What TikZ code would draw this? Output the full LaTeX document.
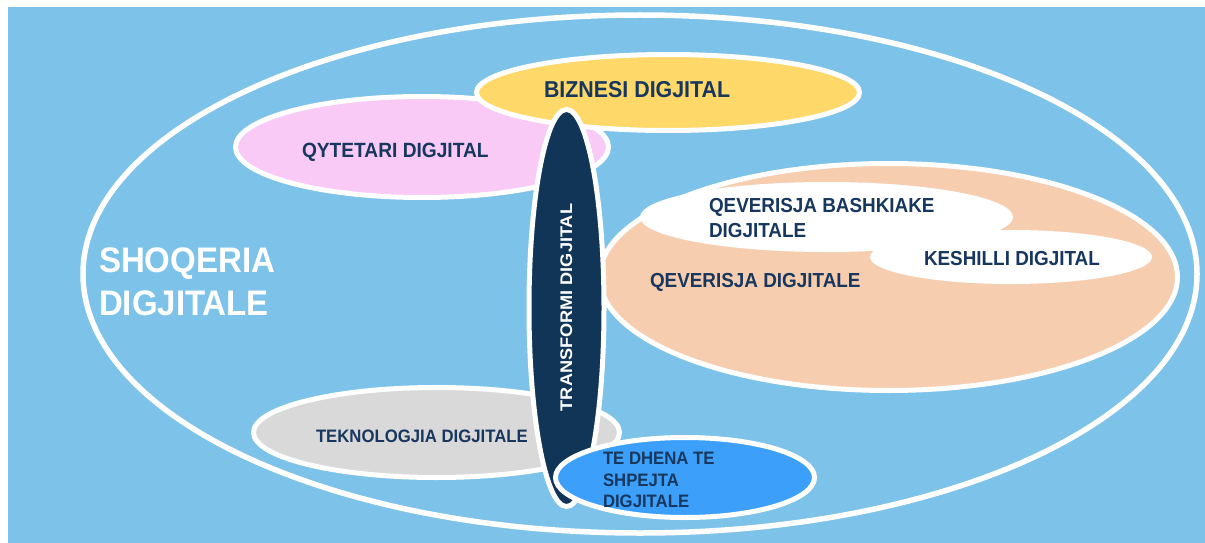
\documentclass[tikz,border=0pt]{standalone}
\usepackage{fontspec}
\setmainfont{Liberation Sans}
\newfontfamily\lab{Liberation Sans}[FakeStretch=0.93]
\newfontfamily\widelab{Liberation Sans}[FakeStretch=1.08]
\definecolor{bgblue}{RGB}{125,194,233}
\definecolor{pinkfill}{RGB}{248,202,245}
\definecolor{yellowfill}{RGB}{254,216,104}
\definecolor{peachfill}{RGB}{247,205,176}
\definecolor{grayfill}{RGB}{217,217,217}
\definecolor{darkfill}{RGB}{17,53,87}
\definecolor{bluefill}{RGB}{60,160,250}
\definecolor{navytext}{RGB}{23,55,94}
\begin{document}
\begin{tikzpicture}[x=1pt,y=-1pt,
  blob/.style={draw=white,line width=5pt},
  lbl/.style={inner sep=0pt,outer sep=0pt,text=navytext,font=\lab\bfseries},
  wlbl/.style={inner sep=0pt,outer sep=0pt,text=white,font=\lab\bfseries}]
\useasboundingbox (0,0) rectangle (1205,543);
\fill[bgblue] (8,7) rectangle (1205,543);
% outer society ellipse
\draw[white,line width=5.5pt] (640,274) ellipse [x radius=557,y radius=259];
% citizen
\path[blob,fill=pinkfill] (422,147) ellipse [x radius=186.5,y radius=50.5];
% business
\path[blob,fill=yellowfill] (668,92.5) ellipse [x radius=191.5,y radius=38];
% government
\path[blob,fill=peachfill] (888.5,277) ellipse [x radius=289,y radius=113.5];
\fill[white] (826.5,217) ellipse [x radius=186.5,y radius=35];
\fill[white] (1011,257) ellipse [x radius=141,y radius=27];
% technology
\path[blob,fill=grayfill] (436.5,432.5) ellipse [x radius=183,y radius=45];
% transformation
\path[blob,fill=darkfill] (566.5,308) ellipse [x radius=37.5,y radius=198.5];
% data
\path[blob,fill=bluefill] (685,477.5) ellipse [x radius=129.5,y radius=40];
% labels
\node[wlbl,anchor=base west,font=\lab\bfseries\fontsize{35.5}{43}\selectfont] (soc1) at (99,272) {SHOQERIA};
\node[wlbl,anchor=base west,font=\lab\bfseries\fontsize{35.5}{43}\selectfont] (soc2) at (99,315) {DIGJITALE};
\node[lbl,anchor=base west,font=\lab\bfseries\fontsize{23}{27}\selectfont] (biz) at (544,98) {BIZNESI DIGJITAL};
\node[lbl,anchor=base west,font=\lab\bfseries\fontsize{20.6}{24}\selectfont] (qyt) at (302,157) {QYTETARI DIGJITAL};
\node[lbl,anchor=base west,font=\lab\bfseries\fontsize{20.3}{25}\selectfont] (bash1) at (709,212) {QEVERISJA BASHKIAKE};
\node[lbl,anchor=base west,font=\lab\bfseries\fontsize{20.3}{25}\selectfont] (bash2) at (709,237) {DIGJITALE};
\node[lbl,anchor=base west,font=\lab\bfseries\fontsize{20.3}{25}\selectfont] (kesh) at (924,265) {KESHILLI DIGJITAL};
\node[lbl,anchor=base west,font=\lab\bfseries\fontsize{20.3}{25}\selectfont] (qev) at (650,287) {QEVERISJA DIGJITALE};
\node[lbl,anchor=base west,font=\lab\bfseries\fontsize{18}{21}\selectfont] (tek) at (316,442) {TEKNOLOGJIA DIGJITALE};
\node[lbl,anchor=base west,font=\lab\bfseries\fontsize{18}{21.5}\selectfont] (dh1) at (603,464) {TE DHENA TE};
\node[lbl,anchor=base west,font=\lab\bfseries\fontsize{18}{21.5}\selectfont] (dh2) at (603,486) {SHPEJTA};
\node[lbl,anchor=base west,font=\lab\bfseries\fontsize{18}{21.5}\selectfont] (dh3) at (603,507) {DIGJITALE};
\node[wlbl,anchor=base,rotate=90,font=\widelab\bfseries\fontsize{16.8}{20}\selectfont] (trans) at (572,307.5) {TRANSFORMI DIGJITAL};
\end{tikzpicture}
\end{document}
